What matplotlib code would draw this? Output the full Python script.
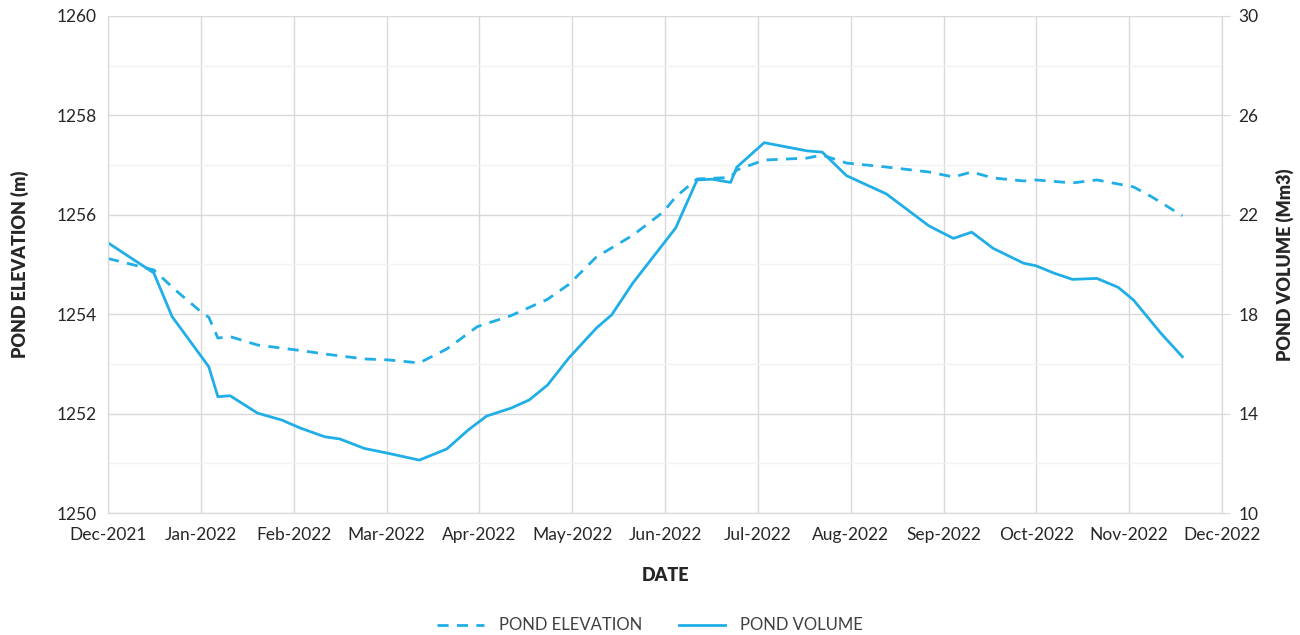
import pandas as pd
import matplotlib
matplotlib.use("Agg")
import matplotlib.pyplot as plt
import matplotlib.dates as mdates
from matplotlib.ticker import MultipleLocator, FixedLocator

plt.rcParams['font.family'] = ['Lato', 'DejaVu Sans']

# Pond elevation (m), left axis
elev_dates = ["2021-12-01", "2021-12-16", "2021-12-23", "2022-01-01", "2022-01-03",
              "2022-01-06", "2022-01-10", "2022-01-19", "2022-02-02", "2022-02-10",
              "2022-02-23", "2022-03-03", "2022-03-13", "2022-03-22", "2022-04-01",
              "2022-04-12", "2022-04-24", "2022-05-01", "2022-05-10", "2022-05-22",
              "2022-06-01", "2022-06-05", "2022-06-12", "2022-06-23", "2022-06-25",
              "2022-07-04", "2022-07-18", "2022-07-23", "2022-07-31", "2022-08-13",
              "2022-08-27", "2022-09-04", "2022-09-10", "2022-09-17", "2022-09-27",
              "2022-10-01", "2022-10-13", "2022-10-21", "2022-11-02", "2022-11-08",
              "2022-11-18"]
elevation = [1255.12, 1254.89, 1254.49, 1254.02, 1253.94,
             1253.52, 1253.55, 1253.38, 1253.27, 1253.20,
             1253.10, 1253.08, 1253.02, 1253.30, 1253.75,
             1253.97, 1254.30, 1254.60, 1255.15, 1255.59,
             1256.06, 1256.36, 1256.72, 1256.75, 1256.90,
             1257.10, 1257.14, 1257.20, 1257.04, 1256.96,
             1256.86, 1256.76, 1256.86, 1256.74, 1256.68,
             1256.70, 1256.64, 1256.70, 1256.56, 1256.36,
             1255.98]

# Pond volume (Mm3), right axis
vol_dates = ["2021-12-01", "2021-12-16", "2021-12-22", "2022-01-03", "2022-01-06",
             "2022-01-10", "2022-01-19", "2022-01-27", "2022-02-02", "2022-02-10",
             "2022-02-15", "2022-02-23", "2022-03-03", "2022-03-13", "2022-03-22",
             "2022-03-29", "2022-04-04", "2022-04-12", "2022-04-18", "2022-04-24",
             "2022-05-01", "2022-05-10", "2022-05-15", "2022-05-22", "2022-06-05",
             "2022-06-12", "2022-06-17", "2022-06-23", "2022-06-25", "2022-07-04",
             "2022-07-18", "2022-07-23", "2022-07-31", "2022-08-13", "2022-08-27",
             "2022-09-04", "2022-09-10", "2022-09-17", "2022-09-27", "2022-10-01",
             "2022-10-07", "2022-10-13", "2022-10-21", "2022-10-28", "2022-11-02",
             "2022-11-11", "2022-11-18"]
volume = [20.87, 19.66, 17.90, 15.89, 14.68,
          14.72, 14.02, 13.74, 13.42, 13.07,
          12.98, 12.60, 12.40, 12.13, 12.58,
          13.34, 13.90, 14.22, 14.55, 15.15,
          16.24, 17.44, 17.97, 19.26, 21.47,
          23.40, 23.43, 23.30, 23.91, 24.90,
          24.57, 24.52, 23.57, 22.84, 21.55,
          21.05, 21.30, 20.65, 20.05, 19.95,
          19.65, 19.40, 19.44, 19.08, 18.57,
          17.23, 16.29]

month_labels = ["Dec-2021", "Jan-2022", "Feb-2022", "Mar-2022", "Apr-2022", "May-2022",
                "Jun-2022", "Jul-2022", "Aug-2022", "Sep-2022", "Oct-2022", "Nov-2022",
                "Dec-2022"]
vol_ticks = [10, 14, 18, 22, 26, 30]

line_color = "#1FAEE6"
grid_major = "#d9d9d9"
grid_minor = "#f2f2f2"
text_color = "#262626"

fig = plt.figure(figsize=(13, 6.35), dpi=100)
ax = fig.add_axes([0.0831, 0.192, 0.8569, 0.783])
ax2 = ax.twinx()

l1, = ax.plot(pd.to_datetime(elev_dates), elevation, color=line_color, lw=2,
              ls=(0, (4, 3)), label="POND ELEVATION")
l2, = ax2.plot(pd.to_datetime(vol_dates), volume, color=line_color, lw=2,
               label="POND VOLUME")

x0 = mdates.date2num(pd.Timestamp("2021-12-01"))
x1 = mdates.date2num(pd.Timestamp("2022-12-01"))
ax.set_xlim(x0, x1)
ax.set_ylim(1250, 1260)
ax2.set_ylim(10, 30)

# evenly spaced month gridlines (axis split into 12 equal steps)
step = (x1 - x0) / (len(month_labels) - 1)
ax.set_xticks([x0 + i * step for i in range(len(month_labels))])
ax.set_xticklabels(month_labels)
ax.yaxis.set_major_locator(MultipleLocator(2))
ax.yaxis.set_minor_locator(MultipleLocator(1))
ax2.yaxis.set_major_locator(FixedLocator(vol_ticks))

ax.grid(True, which="major", color=grid_major, lw=1)
ax.grid(True, which="minor", axis="y", color=grid_minor, lw=1)
ax.set_axisbelow(True)

for a in (ax, ax2):
    for s in a.spines.values():
        s.set_color(grid_major)
    a.spines["top"].set_visible(False)

ax.tick_params(axis="y", which="both", length=0, labelsize=12.5, colors=text_color, pad=8)
ax.tick_params(axis="x", length=0, labelsize=12.5, colors=text_color, pad=10)
ax2.tick_params(axis="y", length=6, color=grid_major, labelsize=12.5, colors=text_color, pad=6)

ax.set_xlabel("DATE", fontsize=13, fontweight="heavy", color=text_color, labelpad=17)
ax.set_ylabel("POND ELEVATION (m)", fontsize=13, fontweight="heavy", color=text_color, labelpad=20)
ax2.set_ylabel("POND VOLUME (Mm3)", fontsize=13, fontweight="heavy", color=text_color, labelpad=12)

leg = fig.legend(handles=[l1, l2], loc="center", bbox_to_anchor=(0.5, 0.015),
                 ncol=2, frameon=False, fontsize=12, handlelength=2.8,
                 handletextpad=0.9, columnspacing=2.2)
for t in leg.get_texts():
    t.set_color("#404040")

fig.savefig("out.png", dpi=100)
